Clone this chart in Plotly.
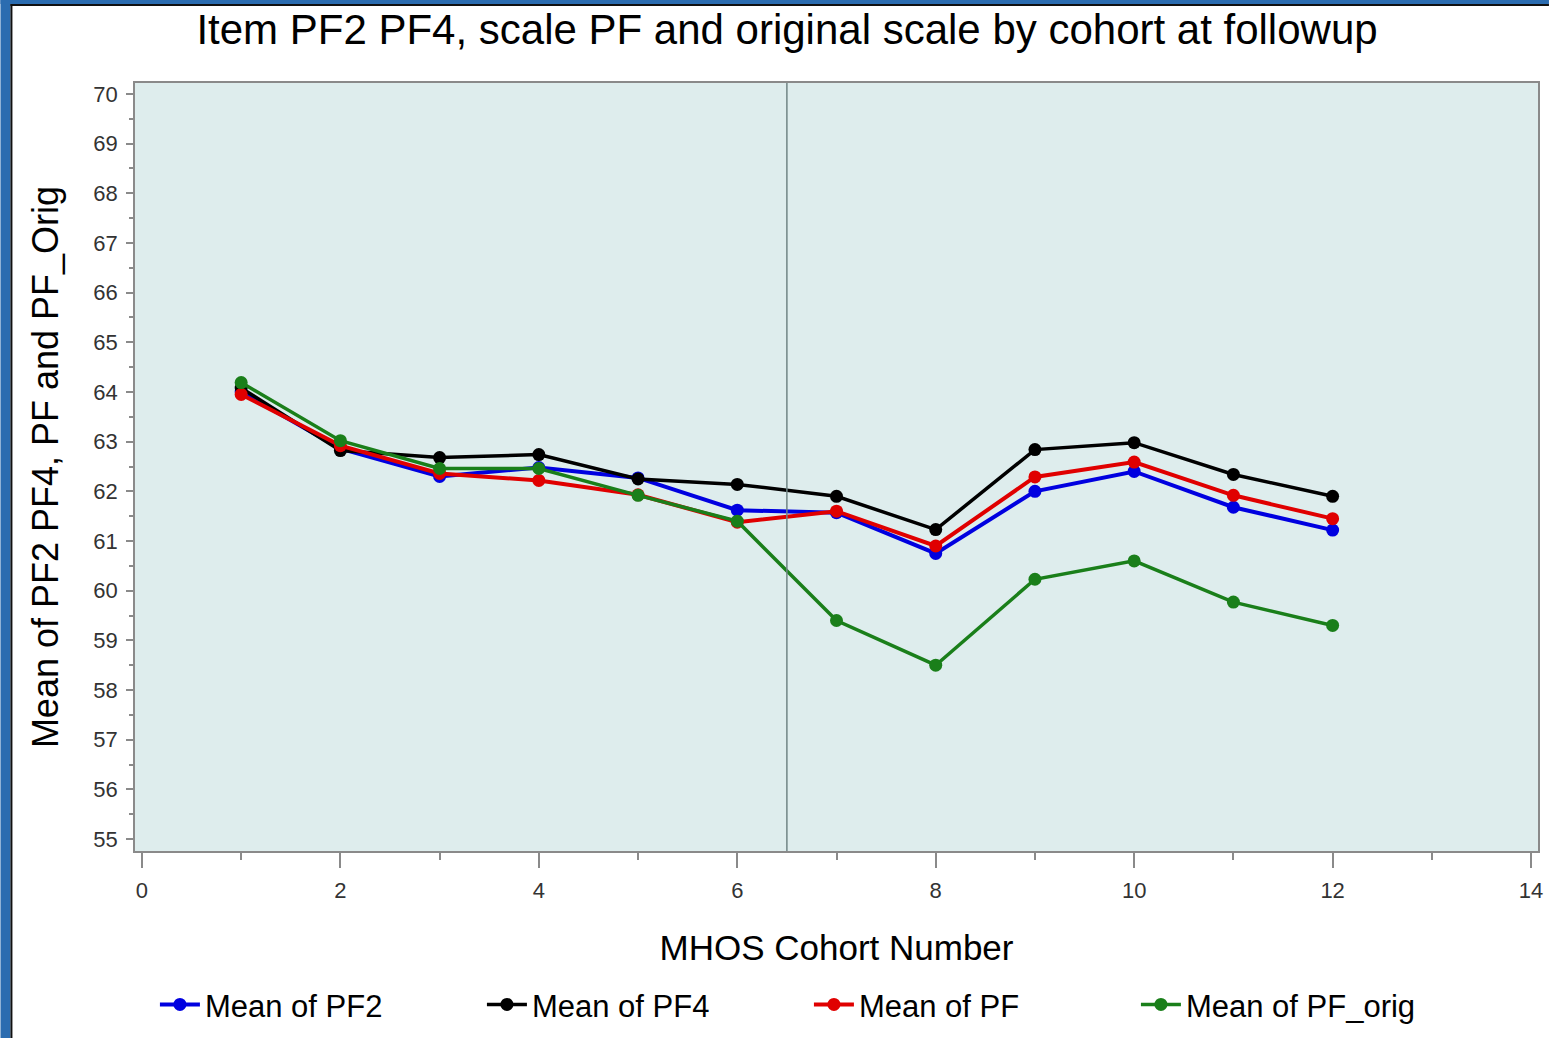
import plotly.graph_objects as go

cohort = [1, 2, 3, 4, 5, 6, 7, 8, 9, 10, 11, 12]
pf2 = [64.00, 62.86, 62.30, 62.48, 62.27, 61.62, 61.57, 60.75, 62.00, 62.40, 61.68, 61.22]
pf4 = [64.08, 62.82, 62.68, 62.74, 62.25, 62.14, 61.90, 61.23, 62.84, 62.98, 62.34, 61.90]
pf = [63.95, 62.92, 62.36, 62.22, 61.93, 61.38, 61.60, 60.90, 62.29, 62.59, 61.92, 61.45]
pf_orig = [64.19, 63.02, 62.46, 62.46, 61.92, 61.40, 59.40, 58.50, 60.23, 60.60, 59.77, 59.30]

series_names = ["Mean of PF2", "Mean of PF4", "Mean of PF", "Mean of PF_orig"]
series_values = [pf2, pf4, pf, pf_orig]
series_colors = ["#0000e0", "#000000", "#e00000", "#1a7f1a"]
series_widths = [4, 3.5, 4, 3.5]

y_ticks = list(range(55, 71))
x_ticks = list(range(0, 15, 2))
ref_x = 6.5

W, H = 1549, 1038
L, R, T, B = 135, 6, 83, 186
PW, PH = W - L - R, H - T - B

def px(x):
    return (x - L) / PW

def py(y):
    return (H - B - y) / PH

fig = go.Figure()
for name, vals, col, lw in zip(series_names, series_values, series_colors, series_widths):
    fig.add_trace(go.Scatter(
        x=cohort, y=vals, name=name, mode="lines+markers",
        line=dict(color=col, width=lw),
        marker=dict(color=col, size=13, symbol="circle"),
    ))

font_family = "Liberation Sans, Arial, sans-serif"

fig.update_layout(
    width=W, height=H,
    margin=dict(l=L, r=R, t=T, b=B),
    paper_bgcolor="white",
    plot_bgcolor="#deeded",
    font=dict(family=font_family, color="black"),
    title=dict(text="Item PF2 PF4, scale PF and original scale by cohort at followup",
               x=787 / W, xanchor="center", y=1 - 29 / H, yanchor="middle",
               font=dict(size=42, color="black", family=font_family)),
    showlegend=True,
    legend=dict(orientation="h", x=px(155), xanchor="left", y=py(1006), yanchor="middle",
                font=dict(size=31, color="black"), entrywidth=272, entrywidthmode="pixels",
                bgcolor="rgba(0,0,0,0)", itemwidth=40, traceorder="normal"),
    xaxis=dict(range=[-0.07, 14.07], tickmode="array", tickvals=x_ticks,
               showgrid=False, zeroline=False, showline=True, linecolor="#8a8a8a", linewidth=1.5,
               mirror=True, ticks="outside", ticklen=15, tickcolor="#8a8a8a", tickwidth=1.5,
               tickfont=dict(size=22, color="#333333"), ticklabelstandoff=4,
               minor=dict(tickmode="array", tickvals=list(range(1, 14, 2)), ticks="outside",
                          ticklen=7, tickcolor="#8a8a8a", tickwidth=1.5, showgrid=False),
               title=dict(text="MHOS Cohort Number", font=dict(size=35, color="black"), standoff=33)),
    yaxis=dict(range=[54.76, 70.22], tickmode="array", tickvals=y_ticks,
               showgrid=False, zeroline=False, showline=True, linecolor="#8a8a8a", linewidth=1.5,
               mirror=True, ticks="outside", ticklen=7, tickcolor="#8a8a8a", tickwidth=1.5,
               tickfont=dict(size=22, color="#333333"), ticklabelstandoff=4,
               minor=dict(tickmode="array", tickvals=[v + 0.5 for v in y_ticks[:-1]], ticks="outside",
                          ticklen=4, tickcolor="#8a8a8a", tickwidth=1.5, showgrid=False),
               title=dict(text="Mean of PF2 PF4, PF and PF_Orig", font=dict(size=36, color="black"), standoff=24)),
)

# vertical reference line
fig.add_shape(type="line", xref="x", yref="paper", x0=ref_x, x1=ref_x, y0=0, y1=1,
              line=dict(color="#708585", width=1.5), layer="above")

# outer frame (blue border with dark inner line)
blue = "#2b6cb0"
fig.add_shape(type="rect", xref="paper", yref="paper", x0=px(0), x1=px(10), y0=py(H + 5), y1=py(0),
              fillcolor=blue, line=dict(width=0), layer="above")
fig.add_shape(type="rect", xref="paper", yref="paper", x0=px(0), x1=px(W + 5), y0=py(4), y1=py(-5),
              fillcolor=blue, line=dict(width=0), layer="above")
fig.add_shape(type="rect", xref="paper", yref="paper", x0=px(10), x1=px(12), y0=py(H + 5), y1=py(4),
              fillcolor="#111111", line=dict(width=0), layer="above")
fig.add_shape(type="rect", xref="paper", yref="paper", x0=px(10), x1=px(W + 5), y0=py(6), y1=py(4),
              fillcolor="#111111", line=dict(width=0), layer="above")

fig.write_html("out.html", config={"displayModeBar": False},
               post_script="document.body.style.margin='0px';")
